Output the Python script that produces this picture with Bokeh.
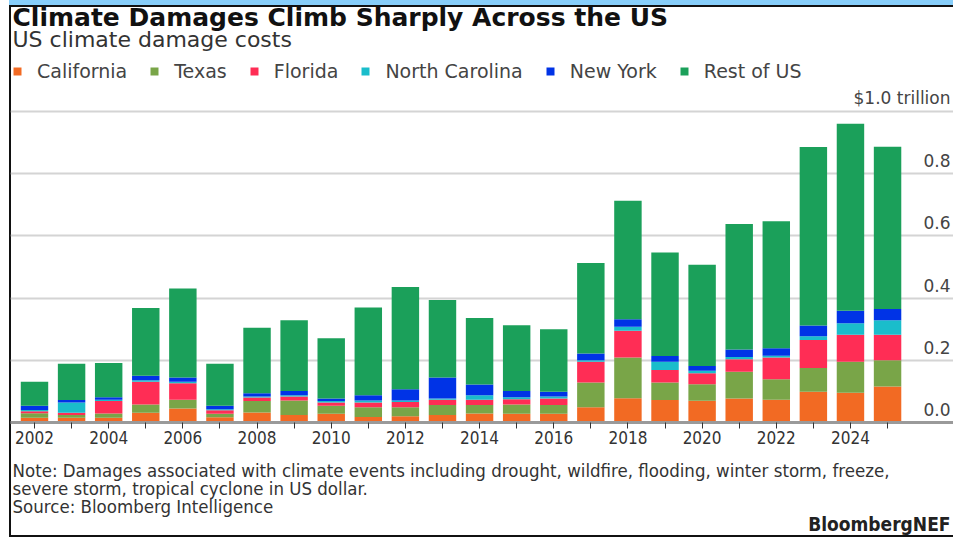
from bokeh.plotting import figure
from bokeh.models import (Legend, LegendItem, Title, FixedTicker, Range1d, ColumnDataSource)
from bokeh.embed import file_html
from bokeh.resources import INLINE
from bokeh.core.properties import value

# ---------------- data (US$ trillion) ----------------
years = list(range(2002, 2026))
california = [0.015, 0.015, 0.015, 0.031, 0.045, 0.017, 0.032, 0.024, 0.028, 0.018, 0.020, 0.024,
              0.029, 0.028, 0.028, 0.049, 0.078, 0.072, 0.070, 0.077, 0.073, 0.099, 0.096, 0.116]
texas = [0.015, 0.009, 0.014, 0.027, 0.028, 0.011, 0.037, 0.047, 0.026, 0.031, 0.029, 0.032,
         0.027, 0.030, 0.028, 0.080, 0.131, 0.057, 0.053, 0.086, 0.066, 0.076, 0.099, 0.084]
florida = [0.006, 0.007, 0.040, 0.073, 0.053, 0.011, 0.011, 0.013, 0.010, 0.015, 0.017, 0.017,
           0.017, 0.017, 0.021, 0.066, 0.086, 0.040, 0.035, 0.040, 0.070, 0.090, 0.087, 0.082]
north_carolina = [0.004, 0.033, 0.004, 0.005, 0.005, 0.004, 0.004, 0.004, 0.005, 0.007, 0.005, 0.004,
                  0.015, 0.006, 0.007, 0.005, 0.013, 0.026, 0.008, 0.008, 0.006, 0.012, 0.037, 0.047]
new_york = [0.014, 0.008, 0.008, 0.014, 0.014, 0.011, 0.010, 0.013, 0.008, 0.017, 0.036, 0.068,
            0.034, 0.020, 0.015, 0.022, 0.024, 0.019, 0.016, 0.024, 0.024, 0.035, 0.040, 0.036]
rest_of_us = [0.077, 0.117, 0.110, 0.218, 0.286, 0.135, 0.211, 0.228, 0.194, 0.282, 0.329, 0.249,
              0.214, 0.212, 0.201, 0.291, 0.381, 0.333, 0.325, 0.403, 0.408, 0.574, 0.602, 0.522]

series_names = ["California", "Texas", "Florida", "North Carolina", "New York", "Rest of US"]
series_keys = ["california", "texas", "florida", "north_carolina", "new_york", "rest_of_us"]
colors = ["#F26A23", "#79A548", "#FF2D55", "#1ABDCB", "#0033E6", "#1BA05A"]

x_label_years = [2002, 2004, 2006, 2008, 2010, 2012, 2014, 2016, 2018, 2020, 2022, 2024]
x_minor_years = [2003, 2005, 2007, 2009, 2011, 2013, 2015, 2017, 2019, 2021, 2023, 2025]
y_tick_values = [0.0, 0.2, 0.4, 0.6, 0.8, 1.0]
y_tick_labels = ["0.0", "0.2", "0.4", "0.6", "0.8", "$1.0 trillion"]

title_text = "Climate Damages Climb Sharply Across the US"
subtitle_text = "US climate damage costs"
note_line1 = "Note: Damages associated with climate events including drought, wildfire, flooding, winter storm, freeze,"
note_line2 = "severe storm, tropical cyclone in US dollar."
source_text = "Source: Bloomberg Intelligence"
brand_text = "BloombergNEF"

source = ColumnDataSource(dict(years=years, california=california, texas=texas, florida=florida,
                               north_carolina=north_carolina, new_york=new_york,
                               rest_of_us=rest_of_us))

SANS = "DejaVu Sans"
COND = "DejaVu Sans Condensed"

X_START, X_END = 2001.353, 2026.778
Y_END = 1.2090

p = figure(width=953, height=537, x_range=Range1d(X_START, X_END), y_range=Range1d(0, Y_END),
           output_backend="svg", toolbar_location=None,
           min_border_left=10, min_border_right=0, min_border_top=46, min_border_bottom=115,
           background_fill_color=None, border_fill_color=None, outline_line_color=None)

renderers = p.vbar_stack(series_keys, x="years", width=0.74, color=colors, line_color=None,
                         source=source)

p.yaxis.visible = False
p.ygrid.ticker = FixedTicker(ticks=y_tick_values[1:])
p.ygrid.grid_line_color = "#d4d4d4"
p.ygrid.grid_line_width = 2
p.xgrid.visible = False

p.text(x=[X_END] * len(y_tick_values), y=y_tick_values, text=y_tick_labels,
       x_offset=-3, y_offset=-13, text_align="right", text_baseline="middle",
       text_font=value(SANS), text_font_size="17px", text_color="#444444")

xa = p.xaxis[0]
xa.ticker = FixedTicker(ticks=x_label_years, minor_ticks=x_minor_years)
xa.axis_line_color = "#9a9a9a"
xa.axis_line_width = 3
xa.major_tick_in = 0
xa.major_tick_out = 6
xa.minor_tick_in = 0
xa.minor_tick_out = 6
xa.major_tick_line_color = "#333333"
xa.minor_tick_line_color = "#333333"
xa.major_label_text_font = COND
xa.major_label_text_font_size = "17px"
xa.major_label_text_color = "#333333"
xa.major_label_standoff = 2

# legend inside the frame, at its top-left
items = [LegendItem(label=n, renderers=[r]) for n, r in zip(series_names, renderers)]
legend = Legend(items=items, orientation="horizontal", location=(2, 340),
                glyph_width=10, glyph_height=10, label_standoff=15, spacing=22,
                padding=0, margin=0, border_line_color=None, background_fill_alpha=0,
                label_text_font=SANS, label_text_font_size="19px", label_text_color="#444444")
p.add_layout(legend, "center")

# header (first added sits nearest the frame)
p.add_layout(Title(text=subtitle_text, align="left", offset=2, standoff=-10.6,
                   text_font=SANS, text_font_size="22px", text_font_style="normal",
                   text_color="#333333"), "above")
p.add_layout(Title(text=title_text, align="left", offset=2, standoff=-2.1,
                   text_font=SANS, text_font_size="25px", text_font_style="bold",
                   text_color="#111111"), "above")

# footer: small blank spacer under the axis, then the note lines
p.add_layout(Title(text=" ", align="left", offset=0, standoff=3.4,
                   text_font=COND, text_font_size="8px", text_font_style="normal",
                   text_color="#ffffff"), "below")
for t in [note_line1, note_line2, source_text]:
    p.add_layout(Title(text=t, align="left", offset=2, standoff=-4.53,
                       text_font=COND, text_font_size="18.5px", text_font_style="normal",
                       text_color="#333333"), "below")
p.add_layout(Title(text=brand_text, align="right", offset=3, standoff=-5.65,
                   text_font=COND, text_font_size="19px", text_font_style="bold",
                   text_color="#222222"), "below")

# page frame: light-blue strip on top, dark rules at top, left and bottom
p.styles = {
    "background-image": ("linear-gradient(#87CEFA,#87CEFA), linear-gradient(#111,#111), "
                         "linear-gradient(#111,#111), linear-gradient(#111,#111)"),
    "background-size": "944px 5px, 944px 2px, 2px 532px, 944px 2px",
    "background-position": "9px 0px, 9px 5px, 9px 5px, 9px 535px",
    "background-repeat": "no-repeat",
    "background-color": "white",
}

open("out.html", "w").write(file_html(p, INLINE))
